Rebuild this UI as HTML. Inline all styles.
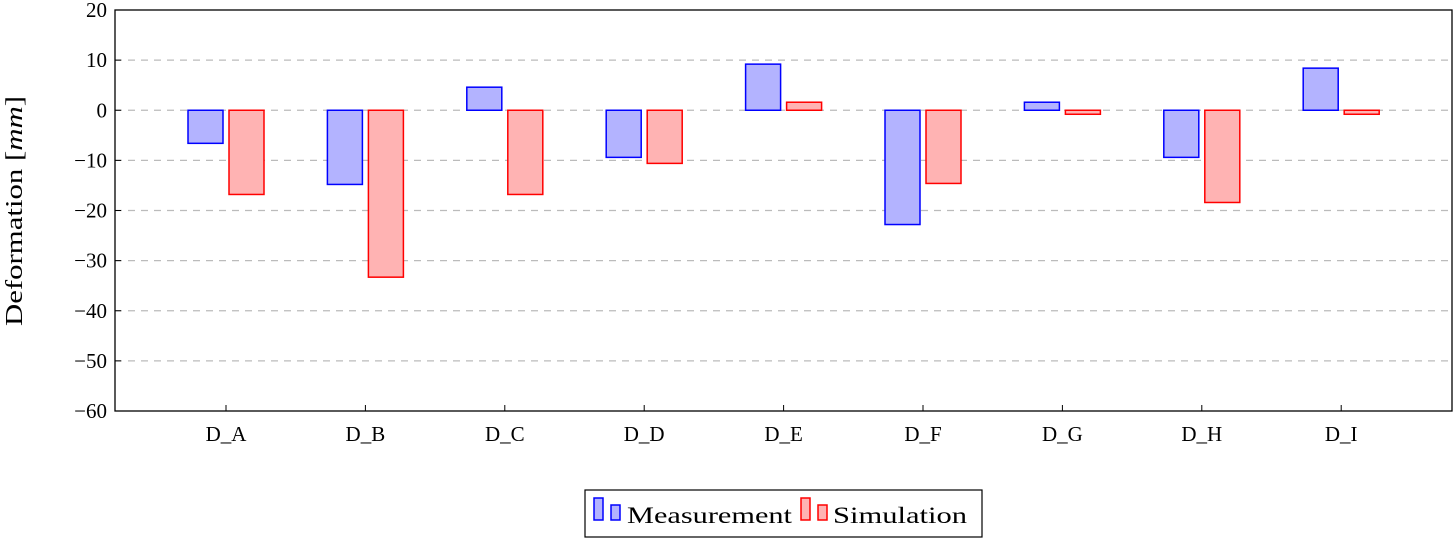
<!DOCTYPE html>
<html><head><meta charset="utf-8"><style>
html,body{margin:0;padding:0;background:#fff;}
svg{display:block;font-family:"Liberation Serif",serif;}
</style></head><body>
<svg id="chart" width="1454" height="540" viewBox="0 0 1454 540">
<g id="grid"></g>
<g id="bars"></g>
<rect x="115" y="10" width="1337" height="401" fill="none" stroke="#000" stroke-width="1.3"/>
<g id="yticks"></g>
<g id="xticks"></g>
<text x="22" y="211" font-size="24" text-anchor="middle" textLength="230" lengthAdjust="spacingAndGlyphs" transform="rotate(-90 22 211)">Deformation [<tspan font-style="italic">mm</tspan>]</text>
<g>
<rect x="585" y="490" width="397" height="47" fill="#fff" stroke="#000" stroke-width="1.2"/>
<g>
<rect x="594" y="498" width="9" height="22" fill="#b3b3ff" stroke="#00f" stroke-width="1.5"/>
<rect x="611" y="505" width="9" height="15" fill="#b3b3ff" stroke="#00f" stroke-width="1.5"/>
<text x="627" y="523" font-size="23" textLength="165" lengthAdjust="spacingAndGlyphs">Measurement</text>
</g>
<g>
<rect x="801" y="498" width="9" height="22" fill="#ffb3b3" stroke="#f00" stroke-width="1.5"/>
<rect x="818" y="505" width="9" height="15" fill="#ffb3b3" stroke="#f00" stroke-width="1.5"/>
<text x="833" y="523" font-size="23" textLength="134" lengthAdjust="spacingAndGlyphs">Simulation</text>
</g>
</g>
</svg>
<script>
const categories = ["D_A","D_B","D_C","D_D","D_E","D_F","D_G","D_H","D_I"];
const measurement = [-6.6,-14.8,4.6,-9.4,9.2,-22.8,1.6,-9.4,8.4];
const simulation = [-16.8,-33.3,-16.8,-10.6,1.6,-14.6,-0.8,-18.4,-0.8];
const yTicks = [20,10,0,-10,-20,-30,-40,-50,-60];
const NS="http://www.w3.org/2000/svg";
const yMin=-60,yMax=20,plotTop=10,plotBottom=411,plotLeft=115,plotRight=1452;
const yScale=v=>plotBottom-(v-yMin)/(yMax-yMin)*(plotBottom-plotTop);
const step=139.4,first=226;
const xScale=i=>first+i*step;
const bw=35,gap=3;
function mk(tag,attrs,parent){const e=document.createElementNS(NS,tag);for(const k in attrs)e.setAttribute(k,attrs[k]);document.getElementById(parent).appendChild(e);return e;}
yTicks.forEach(t=>{
  if(t!==yMax&&t!==yMin){
    const l=mk("line",{x1:plotLeft,x2:plotRight,y1:yScale(t),y2:yScale(t),stroke:"#bbb","stroke-width":1.2,"stroke-dasharray":"7,6"},"grid");
    
    
  }
  const tk=mk("line",{x1:plotLeft,x2:plotLeft+6,y1:yScale(t),y2:yScale(t),stroke:"#000"},"yticks");
  
  
  const tx=mk("text",{x:plotLeft-8,y:yScale(t)+7,"font-size":21,"text-anchor":"end"},"yticks");
  tx.textContent=t<0?"\u2212"+(-t):String(t);
  
  
});
categories.forEach((c,i)=>{
  const cx=xScale(i);
  const tk=mk("line",{x1:cx,x2:cx,y1:plotBottom,y2:plotBottom-6,stroke:"#000"},"xticks");
  
  
  const tx=mk("text",{x:cx,y:441,"font-size":21,"text-anchor":"middle"},"xticks");
  tx.textContent=c;
  
  
  const m=measurement[i],s=simulation[i];
  const b1=mk("rect",{x:cx-gap-bw,y:Math.min(yScale(m),yScale(0)),width:bw,height:Math.abs(yScale(m)-yScale(0)),fill:"#b3b3ff",stroke:"#00f","stroke-width":1.5},"bars");
  
  
  const b2=mk("rect",{x:cx+gap,y:Math.min(yScale(s),yScale(0)),width:bw,height:Math.abs(yScale(s)-yScale(0)),fill:"#ffb3b3",stroke:"#f00","stroke-width":1.5},"bars");
  
  
});
</script>
</body></html>
